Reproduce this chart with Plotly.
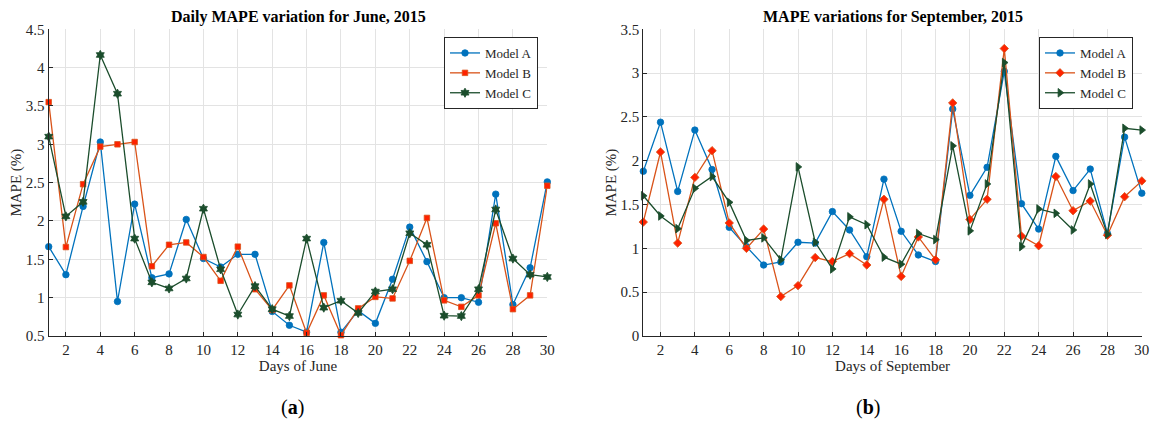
import plotly.graph_objects as go

days = list(range(1, 31))

june_a = [1.665, 1.30, 2.19, 3.03, 0.95, 2.22, 1.26, 1.31, 2.02, 1.51,
          1.40, 1.565, 1.565, 0.82, 0.64, 0.55, 1.72, 0.55, 0.83, 0.665,
          1.24, 1.92, 1.47, 1.00, 1.00, 0.94, 2.35, 0.91, 1.39, 2.51]
june_b = [3.55, 1.66, 2.48, 2.97, 3.00, 3.03, 1.41, 1.69, 1.72, 1.53,
          1.22, 1.665, 1.11, 0.84, 1.16, 0.54, 1.03, 0.51, 0.86, 1.01,
          0.99, 1.48, 2.04, 0.965, 0.88, 1.03, 1.97, 0.85, 1.03, 2.46]
june_c = [3.10, 2.06, 2.25, 4.165, 3.66, 1.77, 1.20, 1.12, 1.25, 2.16,
          1.37, 0.78, 1.15, 0.85, 0.76, 1.77, 0.87, 0.96, 0.80, 1.08,
          1.11, 1.84, 1.69, 0.765, 0.76, 1.11, 2.15, 1.51, 1.30, 1.27]

sep_a = [1.88, 2.44, 1.65, 2.35, 1.90, 1.24, 1.02, 0.81, 0.845, 1.07,
         1.06, 1.42, 1.21, 0.905, 1.79, 1.195, 0.925, 0.85, 2.59, 1.605,
         1.925, 3.02, 1.51, 1.22, 2.05, 1.66, 1.905, 1.17, 2.27, 1.63]
sep_b = [1.30, 2.10, 1.06, 1.81, 2.115, 1.29, 1.00, 1.22, 0.45, 0.575,
         0.895, 0.85, 0.94, 0.81, 1.56, 0.68, 1.13, 0.87, 2.66, 1.33,
         1.56, 3.28, 1.14, 1.03, 1.82, 1.43, 1.54, 1.15, 1.59, 1.77]
sep_c = [1.60, 1.37, 1.225, 1.685, 1.82, 1.525, 1.09, 1.12, 0.87, 1.93,
         1.07, 0.765, 1.36, 1.27, 0.90, 0.82, 1.17, 1.10, 2.17, 1.20,
         1.735, 3.12, 1.02, 1.45, 1.40, 1.21, 1.735, 1.16, 2.37, 2.35]

series_names = ["Model A", "Model B", "Model C"]
xticks = list(range(2, 31, 2))
june_yticks = [0.5, 1, 1.5, 2, 2.5, 3, 3.5, 4, 4.5]
sep_yticks = [0, 0.5, 1, 1.5, 2, 2.5, 3, 3.5]

BLUE = "#0072BD"
ORANGE = "#D95319"
RED = "#FF2200"
GREEN = "#1B4D2C"
SERIF = "Liberation Serif"
TXT = "#262626"

W = 1150.0
H = 421.0


def px(x):
    return x / W


def py(y):
    return 1 - y / H


fig = go.Figure()


def add(x, y, name, color, fill, symbol, size, xa, ya, legend):
    fig.add_trace(go.Scatter(
        x=x, y=y, name=name, mode="lines+markers",
        line=dict(color=color, width=1.3),
        marker=dict(symbol=symbol, size=size, color=fill,
                    line=dict(color=color, width=0.8)),
        cliponaxis=False,
        xaxis=xa, yaxis=ya, legend=legend))


add(days, june_a, series_names[0], BLUE, BLUE, "circle", 6.5, "x", "y", "legend")
add(days, june_b, series_names[1], ORANGE, RED, "square", 5.5, "x", "y", "legend")
add(days, june_c, series_names[2], GREEN, GREEN, "hexagram", 7, "x", "y", "legend")
add(days, sep_a, series_names[0], BLUE, BLUE, "circle", 6.5, "x2", "y2", "legend2")
add(days, sep_b, series_names[1], ORANGE, RED, "diamond", 6.5, "x2", "y2", "legend2")
add(days, sep_c, series_names[2], GREEN, GREEN, "triangle-right", 7.5, "x2", "y2", "legend2")

axis_common = dict(
    showgrid=True, gridcolor="#E3E3E3", gridwidth=1,
    showline=True, linecolor="#262626", linewidth=1.2,
    ticks="inside", ticklen=4, tickcolor="#262626",
    tickfont=dict(family=SERIF, size=15, color=TXT),
    zeroline=False, mirror=False, automargin=False,
)

title_font = dict(family=SERIF, size=15, color=TXT)
legend_common = dict(xanchor="right", yanchor="top",
                     bgcolor="white", bordercolor="#262626", borderwidth=1,
                     font=dict(family=SERIF, size=13, color=TXT),
                     tracegroupgap=0, itemwidth=30)

fig.update_layout(
    width=W, height=H,
    margin=dict(l=0, r=0, t=0, b=0),
    paper_bgcolor="white", plot_bgcolor="white",
    font=dict(family=SERIF, color=TXT),
    xaxis=dict(domain=[px(48.7), px(547.3)], range=[1, 30],
               tickvals=xticks, anchor="y",
               title=dict(text="Days of June", font=title_font, standoff=2),
               **axis_common),
    yaxis=dict(domain=[py(336), py(29.3)], range=[0.5, 4.5], tickvals=june_yticks,
               anchor="x",
               title=dict(text="MAPE (%)", font=title_font, standoff=0),
               **axis_common),
    xaxis2=dict(domain=[px(643.3), px(1141.8)], range=[1, 30],
                tickvals=xticks, anchor="y2",
                title=dict(text="Days of September", font=title_font, standoff=2),
                **axis_common),
    yaxis2=dict(domain=[py(336), py(29.3)], range=[0, 3.5], tickvals=sep_yticks,
                anchor="x2",
                title=dict(text="MAPE (%)", font=title_font, standoff=0),
                **axis_common),
    legend=dict(x=px(538), y=py(37), **legend_common),
    legend2=dict(x=px(1133), y=py(37), **legend_common),
    annotations=[
        dict(text="<b>Daily MAPE variation for June, 2015</b>", x=px(298), y=py(17),
             xref="paper", yref="paper", showarrow=False, xanchor="center", yanchor="middle",
             font=dict(family=SERIF, size=16, color="black")),
        dict(text="<b>MAPE variations for September, 2015</b>", x=px(893), y=py(17),
             xref="paper", yref="paper", showarrow=False, xanchor="center", yanchor="middle",
             font=dict(family=SERIF, size=16, color="black")),
        dict(text="(<b>a</b>)", x=px(292), y=py(407),
             xref="paper", yref="paper", showarrow=False, xanchor="center", yanchor="middle",
             font=dict(family=SERIF, size=20, color="black")),
        dict(text="(<b>b</b>)", x=px(868), y=py(407),
             xref="paper", yref="paper", showarrow=False, xanchor="center", yanchor="middle",
             font=dict(family=SERIF, size=20, color="black")),
    ],
)

fig.write_html(
    "out.html",
    config={"displayModeBar": False},
    post_script="document.body.style.margin='0';document.body.style.overflow='hidden';",
)
